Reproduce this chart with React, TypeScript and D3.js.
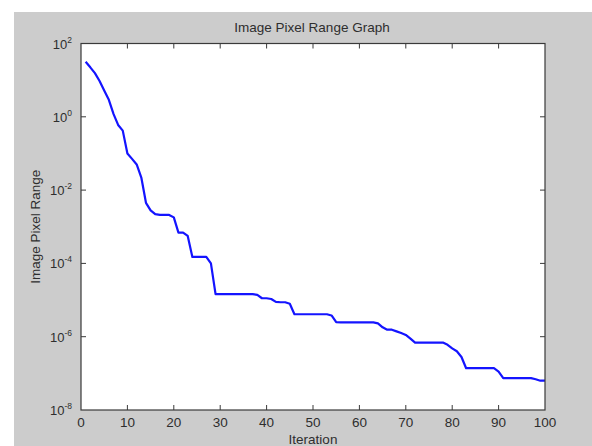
import React, { useEffect, useRef } from "react";
import * as d3 from "d3";

// pixel range per iteration (1..100)
const pixelRange = [
  31.6, 22.4, 15.5, 9.5, 5.2, 2.9, 1.2, 0.6, 0.42, 0.1,
  0.071, 0.05, 0.022, 0.0045, 0.0028, 0.0022, 0.0021, 0.0021, 0.0021, 0.0018,
  6.9e-4, 6.9e-4, 5.6e-4, 1.5e-4, 1.5e-4, 1.5e-4, 1.5e-4, 1.0e-4, 1.45e-5, 1.45e-5,
  1.45e-5, 1.45e-5, 1.45e-5, 1.45e-5, 1.45e-5, 1.45e-5, 1.45e-5, 1.38e-5, 1.12e-5, 1.12e-5,
  1.07e-5, 8.9e-6, 8.7e-6, 8.7e-6, 7.9e-6, 4.1e-6, 4.1e-6, 4.1e-6, 4.1e-6, 4.1e-6,
  4.1e-6, 4.1e-6, 4.1e-6, 3.8e-6, 2.5e-6, 2.45e-6, 2.45e-6, 2.45e-6, 2.45e-6, 2.45e-6,
  2.45e-6, 2.45e-6, 2.45e-6, 2.3e-6, 1.8e-6, 1.55e-6, 1.55e-6, 1.4e-6, 1.26e-6, 1.12e-6,
  8.9e-7, 6.9e-7, 6.9e-7, 6.9e-7, 6.9e-7, 6.9e-7, 6.9e-7, 6.9e-7, 6.0e-7, 4.8e-7,
  4.0e-7, 2.8e-7, 1.38e-7, 1.38e-7, 1.38e-7, 1.38e-7, 1.38e-7, 1.38e-7, 1.38e-7, 1.12e-7,
  7.4e-8, 7.4e-8, 7.4e-8, 7.4e-8, 7.4e-8, 7.4e-8, 7.4e-8, 6.9e-8, 6.3e-8, 6.3e-8,
];

const xTicks = [0, 10, 20, 30, 40, 50, 60, 70, 80, 90, 100];
const yExponents = [2, 0, -2, -4, -6, -8];

const titleText = "Image Pixel Range Graph";
const xLabelText = "Iteration";
const yLabelText = "Image Pixel Range";

function App() {
  const ref = useRef<SVGSVGElement>(null);

  useEffect(() => {
    const W = 592, H = 446;
    const left = 81, right = 545, top = 43.5, bottom = 410;
    const font = "Arial, 'Liberation Sans', sans-serif";
    const textColor = "#2e2e2e";
    const axisColor = "#3a3a3a";

    const svg = d3.select(ref.current);
    svg.selectAll("*").remove();

    // figure background
    svg.append("rect").attr("width", W).attr("height", H).attr("fill", "#ffffff");
    svg.append("rect").attr("x", 14).attr("y", 12)
      .attr("width", W - 14).attr("height", H - 12).attr("fill", "#cccccc");

    const x = d3.scaleLinear().domain([0, 100]).range([left, right]);
    const y = d3.scaleLog().domain([1e-8, 1e2]).range([bottom, top]);

    // axes background
    svg.append("rect")
      .attr("x", left).attr("y", top)
      .attr("width", right - left).attr("height", bottom - top)
      .attr("fill", "#ffffff");

    // the curve
    const line = d3.line<number>()
      .x((d, i) => x(i + 1))
      .y(d => y(d));
    svg.append("path")
      .datum(pixelRange)
      .attr("d", line)
      .attr("fill", "none")
      .attr("stroke", "#1414ff")
      .attr("stroke-width", 2.2)
      .attr("stroke-linejoin", "round");

    // ticks, inward on all four sides
    const ticks = svg.append("g").attr("stroke", axisColor).attr("stroke-width", 1);
    xTicks.slice(1, -1).forEach(t => {
      ticks.append("line").attr("x1", x(t)).attr("x2", x(t)).attr("y1", bottom).attr("y2", bottom - 5);
      ticks.append("line").attr("x1", x(t)).attr("x2", x(t)).attr("y1", top).attr("y2", top + 5);
    });
    yExponents.slice(1, -1).forEach(e => {
      const v = Math.pow(10, e);
      ticks.append("line").attr("x1", left).attr("x2", left + 5).attr("y1", y(v)).attr("y2", y(v));
      ticks.append("line").attr("x1", right).attr("x2", right - 5).attr("y1", y(v)).attr("y2", y(v));
    });

    // axes box
    svg.append("rect")
      .attr("x", left).attr("y", top)
      .attr("width", right - left).attr("height", bottom - top)
      .attr("fill", "none")
      .attr("stroke", axisColor)
      .attr("stroke-width", 1.2);

    // x tick labels
    svg.append("g")
      .selectAll("text")
      .data(xTicks)
      .enter()
      .append("text")
      .attr("x", d => x(d))
      .attr("y", 427)
      .attr("text-anchor", "middle")
      .attr("font-family", font)
      .attr("font-size", 13.5)
      .attr("fill", textColor)
      .text(d => String(d));

    // y tick labels, 10 with superscript exponent
    const yl = svg.append("g")
      .selectAll("text")
      .data(yExponents)
      .enter()
      .append("text")
      .attr("x", 72)
      .attr("y", d => y(Math.pow(10, d)) + 5)
      .attr("text-anchor", "end")
      .attr("font-family", font)
      .attr("font-size", 13)
      .attr("fill", textColor);
    yl.append("tspan").text("10");
    yl.append("tspan")
      .attr("dy", -6)
      .attr("font-size", 8.5)
      .text(d => String(d));

    // title and axis labels
    svg.append("text")
      .attr("x", 312).attr("y", 32)
      .attr("text-anchor", "middle")
      .attr("font-family", font)
      .attr("font-size", 13.5)
      .attr("fill", textColor)
      .text(titleText);

    svg.append("text")
      .attr("x", (left + right) / 2).attr("y", 444)
      .attr("text-anchor", "middle")
      .attr("font-family", font)
      .attr("font-size", 13.5)
      .attr("fill", textColor)
      .text(xLabelText);

    svg.append("text")
      .attr("transform", "translate(40," + (top + bottom) / 2 + ") rotate(-90)")
      .attr("text-anchor", "middle")
      .attr("font-family", font)
      .attr("font-size", 13.5)
      .attr("fill", textColor)
      .text(yLabelText);
  }, []);

  return (
    <svg
      ref={ref}
      width={592}
      height={446}
      style={{ position: "absolute", left: 0, top: 0, display: "block" }}
    />
  );
}

export default App;
